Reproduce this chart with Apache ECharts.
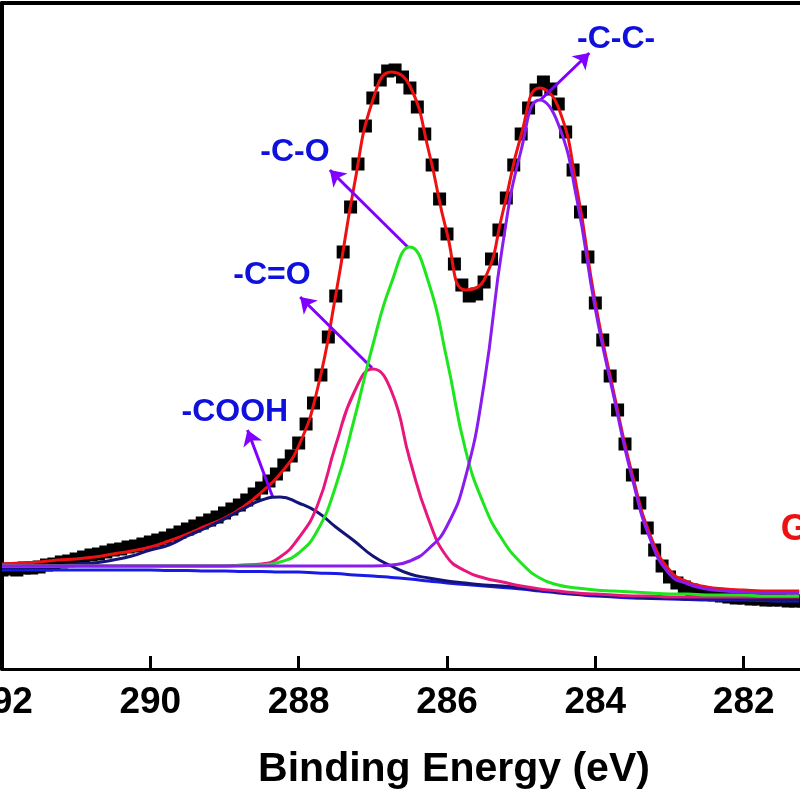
<!DOCTYPE html>
<html>
<head>
<meta charset="utf-8">
<script src="https://cdn.jsdelivr.net/npm/echarts@6.0.0/dist/echarts.min.js"></script>
<style>
  html, body { margin: 0; padding: 0; background: #fff; }
  #chart { width: 800px; height: 800px; }
</style>
</head>
<body>
<div id="chart"></div>
<script>
// C 1s XPS spectrum, binding energy axis runs high -> low
const energyMin = 280
const energyMax = 292
const energyStep = 2

// measured points (0.1 eV steps)
const dataE = [
  292.0, 291.9, 291.8, 291.7, 291.6, 291.5, 291.4, 291.3, 291.2, 291.1,
  291.0, 290.9, 290.8, 290.7, 290.6, 290.5, 290.4, 290.3, 290.2, 290.1,
  290.0, 289.9, 289.8, 289.7, 289.6, 289.5, 289.4, 289.3, 289.2, 289.1,
  289.0, 288.9, 288.8, 288.7, 288.6, 288.5, 288.4, 288.3, 288.2, 288.1,
  288.0, 287.9, 287.8, 287.7, 287.6, 287.5, 287.4, 287.3, 287.2, 287.1,
  287.0, 286.9, 286.8, 286.7, 286.6, 286.5, 286.4, 286.3, 286.2, 286.1,
  286.0, 285.9, 285.8, 285.7, 285.6, 285.5, 285.4, 285.3, 285.2, 285.1,
  285.0, 284.9, 284.8, 284.7, 284.6, 284.5, 284.4, 284.3, 284.2, 284.1,
  284.0, 283.9, 283.8, 283.7, 283.6, 283.5, 283.4, 283.3, 283.2, 283.1,
  283.0, 282.9, 282.8, 282.7, 282.6, 282.5, 282.4, 282.3, 282.2, 282.1,
  282.0, 281.9, 281.8, 281.7, 281.6, 281.5, 281.4, 281.3, 281.2
]
const dataI = [
  99, 100, 99, 101, 101, 102, 104, 105, 107, 108,
  110, 112, 114, 115, 117, 119, 120, 122, 123, 125,
  127, 129, 131, 134, 137, 140, 143, 146, 149, 152,
  156, 160, 164, 169, 175, 181, 188, 195, 204, 213,
  226, 245, 266, 294, 332, 373, 417, 462, 505, 543,
  571, 589, 598, 599, 592, 581, 562, 535, 504, 470,
  435, 405, 384, 373, 375, 387, 410, 439, 471, 504,
  535, 561, 579, 587, 580, 565, 537, 499, 457, 412,
  366, 329, 293, 259, 225, 194, 166, 141, 119, 103,
  92, 86, 82, 79, 77, 75, 74, 73, 72, 71,
  71, 70, 70, 69, 69, 69, 68, 68, 68
]

// fitted curves (0.25 eV steps)
const fitE = [
  292.00, 291.75, 291.50, 291.25, 291.00, 290.75, 290.50, 290.25, 290.00, 289.75,
  289.50, 289.25, 289.00, 288.75, 288.50, 288.25, 288.00, 287.75, 287.50, 287.25,
  287.00, 286.75, 286.50, 286.25, 286.00, 285.75, 285.50, 285.25, 285.00, 284.75,
  284.50, 284.25, 284.00, 283.75, 283.50, 283.25, 283.00, 282.75, 282.50, 282.25,
  282.00, 281.75, 281.50, 281.25
]
const envelope = [
  105, 106, 107, 109, 110, 112, 115, 118, 122, 128,
  135, 143, 151, 162, 177, 195, 223, 279, 374, 484,
  569, 597, 583, 519, 436, 379, 389, 456, 534, 581,
  562, 481, 366, 276, 194, 132, 99, 87, 82, 80,
  79, 78, 78, 78
]
const cooh = [
  101, 101, 102, 103, 105, 106, 109, 113, 119, 124,
  133, 141, 150, 160, 169, 172, 166, 157, 142, 128,
  113, 103, 95, 91, 88, 86, 84, 83, 81, 79,
  77, 75, 74, 73, 72, 71, 71, 70, 70, 70,
  70, 69, 69, 69
]
const cdo = [
  103, 103, 103, 103, 103, 103, 103, 103, 103, 103,
  103, 103, 103, 104, 105, 112, 131, 163, 224, 277,
  300, 278, 209, 150, 112, 98, 91, 87, 83, 80,
  78, 76, 75, 74, 73, 73, 72, 72, 72, 72,
  72, 72, 72, 72
]
const co = [
  103, 103, 103, 103, 103, 103, 103, 103, 103, 103,
  103, 103, 103, 103.5, 104, 107, 116, 138, 183, 250,
  324, 386, 422, 387, 309, 219, 164, 129, 106, 91,
  84, 81, 79, 78, 77, 76, 75, 75, 74, 74,
  74, 73, 73, 73
]
const cc = [
  103, 103, 103, 103, 103, 103, 103, 103, 103, 103,
  103, 103, 103, 103, 103, 103, 103, 103, 103, 103,
  103, 104, 108, 120, 143, 192, 285, 424, 519, 569,
  545, 470, 360, 272, 190, 128, 95, 85, 80, 78,
  77, 76, 76, 76
]
const background = [
  99, 99, 99, 99, 99, 99, 99, 99, 99, 98.5,
  98.5, 98, 98, 97.5, 97.5, 97, 97, 96, 95.5, 94,
  93, 91.5, 90, 88, 86, 84.5, 83, 81.5, 80, 78,
  76, 74.5, 73, 72, 71, 70.5, 70, 69.5, 69, 69,
  69, 68.5, 68, 68
]

// peak labels: arrow from the peak to the tip, text next to the tip
const peakLabels = [
  { text: '-C-C-', from: [284.74, 569], to: [284.08, 616], at: [283.72, 630] },
  { text: '-C-O', from: [286.53, 422], to: [287.58, 499], at: [288.05, 517] },
  { text: '-C=O', from: [287.01, 301], to: [287.98, 372], at: [288.36, 394] },
  { text: '-COOH', from: [288.35, 172], to: [288.69, 239], at: [288.86, 257] }
]
const sampleLabel = { text: 'GO', at: [281.50, 139] }

const FONT = '"Liberation Sans", Arial, Helvetica, sans-serif'
const pair = (xs, ys) => xs.map((x, i) => [x, ys[i]])

function fitLine (name, values, color, z) {
  return {
    name: name,
    type: 'line',
    data: pair(fitE, values),
    smooth: 0.5,
    symbol: 'none',
    lineStyle: { color: color, width: 3 },
    itemStyle: { color: color },
    z: z,
    silent: true
  }
}

const chart = echarts.init(document.getElementById('chart'))

const axisBase = {
  type: 'value',
  min: energyMin,
  max: energyMax,
  interval: energyStep,
  inverse: true,
  splitLine: { show: false }
}

const envelopeSeries = fitLine('Fit', envelope, '#ee1111', 3)
envelopeSeries.markLine = {
  silent: true,
  symbol: ['none', 'arrow'],
  symbolSize: 15,
  label: { show: false },
  lineStyle: { color: '#7f00ff', width: 3, type: 'solid' },
  data: peakLabels.map(p => [{ coord: p.from }, { coord: p.to }])
}
envelopeSeries.markPoint = {
  silent: true,
  symbol: 'rect',
  symbolSize: 1,
  itemStyle: { color: 'rgba(0,0,0,0)' },
  label: {
    show: true,
    position: 'inside',
    formatter: '{b}',
    color: '#1010dd',
    fontSize: 32,
    fontWeight: 'bold',
    fontFamily: FONT
  },
  data: peakLabels.map(p => ({ name: p.text, coord: p.at })).concat([{
    name: sampleLabel.text,
    coord: sampleLabel.at,
    label: { color: '#ee1111', fontSize: 36, align: 'left' }
  }])
}

const option = {
  animation: false,
  backgroundColor: '#ffffff',
  grid: {
    left: 2, top: 3, right: -92, bottom: 131,
    containLabel: false,
    outerBoundsMode: 'none'
  },
  xAxis: [
    Object.assign({}, axisBase, {
      position: 'bottom',
      name: 'Binding Energy (eV)',
      nameLocation: 'middle',
      nameGap: 80,
      nameTextStyle: {
        color: '#000', fontSize: 41, fontWeight: 'bold', fontFamily: FONT,
        padding: [0, 0, 0, 14]
      },
      axisLine: { onZero: false, lineStyle: { color: '#000', width: 3 } },
      axisTick: { inside: true, length: 13, lineStyle: { color: '#000', width: 3 } },
      axisLabel: {
        color: '#000', fontSize: 37, fontWeight: 'bold', fontFamily: FONT,
        margin: 15, showMinLabel: true, showMaxLabel: true
      }
    }),
    Object.assign({}, axisBase, {
      position: 'top',
      axisLine: { onZero: false, lineStyle: { color: '#000', width: 4 } },
      axisTick: { show: false },
      axisLabel: { show: false }
    })
  ],
  yAxis: {
    type: 'value',
    min: 0,
    max: 666,
    axisLine: { show: true, onZero: false, lineStyle: { color: '#000', width: 4 } },
    axisTick: { show: false },
    axisLabel: { show: false },
    splitLine: { show: false }
  },
  series: [
    {
      name: 'Data',
      type: 'scatter',
      data: pair(dataE, dataI),
      symbol: 'rect',
      symbolSize: 13,
      itemStyle: { color: '#000', opacity: 1 },
      z: 1,
      silent: true
    },
    envelopeSeries,
    fitLine('Background', background, '#1a1ae6', 4),
    fitLine('-COOH', cooh, '#141478', 5),
    fitLine('-C=O', cdo, '#e8177d', 6),
    fitLine('-C-O', co, '#1ee61e', 7),
    fitLine('-C-C-', cc, '#8a1cf0', 8)
  ]
}

chart.setOption(option)
</script>
</body>
</html>
